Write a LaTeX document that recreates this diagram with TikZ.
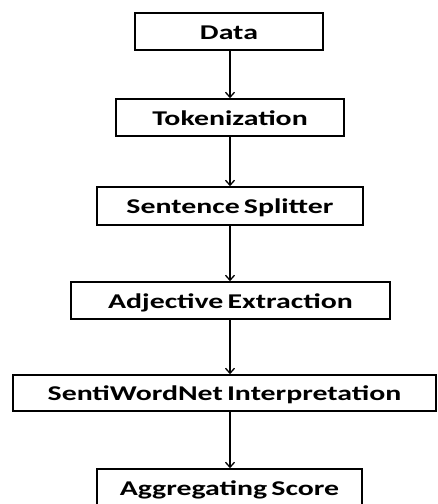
\documentclass[tikz,border=0pt]{standalone}
\usepackage{fontspec}
\setmainfont{Carlito}
\usetikzlibrary{arrows.meta}
\tikzset{
  stagebox/.style={draw=black, line width=1.6pt, fill=white, inner sep=0pt,
    minimum height=37pt, text height=15.5pt, text depth=0pt,
    font=\fontsize{21}{25}\selectfont\bfseries},
  flowarrow/.style={line width=1.3pt, -{Straight Barb[length=5pt,width=9pt,line width=1.3pt]}}
}
\newcommand{\wide}[1]{\scalebox{1.42}[1]{\spaceskip=0.14em\relax #1}}
\begin{document}
\begin{tikzpicture}[x=1pt,y=-1pt]
  \clip (0,0) rectangle (438,504);
  \fill[white] (0,0) rectangle (438,504);
  \node[stagebox, minimum width=188pt] (data) at (229,31.5) {\wide{Data}};
  \node[stagebox, minimum width=228pt] (tok) at (230,117.5) {\wide{Tokenization}};
  \node[stagebox, minimum width=266pt, minimum height=38pt] (sent) at (230,206) {\wide{Sentence Splitter}};
  \node[stagebox, minimum width=319pt] (adj) at (230.5,300.5) {\wide{Adjective Extraction}};
  \node[stagebox, minimum width=423pt, minimum height=36pt] (swn) at (224.5,393) {\wide{SentiWordNet Interpretation}};
  \node[stagebox, minimum width=265pt] (agg) at (229.5,487.5) {\wide{Aggregating Score}};
  \draw[flowarrow] (data.south -| 230,0) -- (tok.north -| 230,0);
  \draw[flowarrow] (tok.south -| 230,0) -- (sent.north -| 230,0);
  \draw[flowarrow] (sent.south -| 230,0) -- (adj.north -| 230,0);
  \draw[flowarrow] (adj.south -| 230,0) -- (swn.north -| 230,0);
  \draw[flowarrow] (swn.south -| 230,0) -- (agg.north -| 230,0);
\end{tikzpicture}
\end{document}
